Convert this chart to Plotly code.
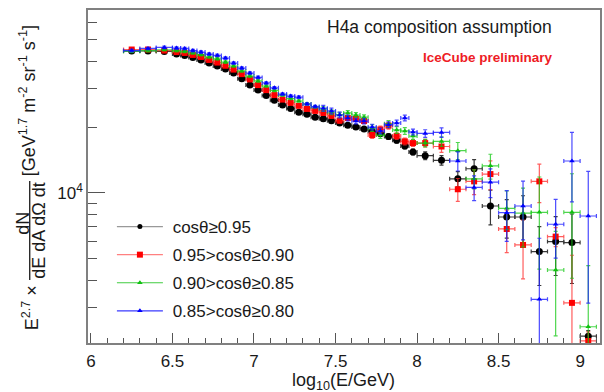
import plotly.graph_objects as go

# ---------------- data ----------------
log_e = [6.25, 6.35, 6.45, 6.525, 6.575, 6.625, 6.675, 6.725, 6.775, 6.825,
         6.875, 6.925, 6.975, 7.025, 7.075, 7.125, 7.175, 7.225, 7.275, 7.325,
         7.375, 7.425, 7.475, 7.525, 7.575, 7.625, 7.675, 7.725, 7.775, 7.825,
         7.875, 7.925, 7.975, 8.05, 8.15, 8.25, 8.35, 8.45, 8.55, 8.65,
         8.75, 8.85, 8.95, 9.05]
bin_half = [0.05, 0.05, 0.05] + [0.025] * 30 + [0.05] * 11

flux_095 = [44500, 44500, 44300, 43100, 42400, 41600, 40500, 39200, 38000, 36800,
            35300, 33200, 31100, 29500, 27900, 26500, 25200, 24300, 23400, 22900,
            22200, 21800, 21400, 20900, 20400, 20000, 19600, 19100, 18700, 18100,
            17400, 16400, 15400, 14800, 14100, 11600, 12900, 8720, 7770, 7770,
            5400, 6000, 5940, 2220]
flux_090 = [45200, 45200, 44700, 44000, 43600, 42700, 41800, 40500, 39400, 38100,
            36600, 34900, 33000, 31100, 29500, 28000, 26700, 25800, 25000, 24200,
            23700, 23200, 22500, 21400, 22000, 21800, 21300, 18400, 19500, 20300,
            18200, 17200, 16900, 16900, 16300, 10400, 11300, 12200, 6850, 5790,
            11300, 6320, 3150, 2110]
flux_085 = [44300, 44700, 45100, 44700, 44300, 43600, 42800, 41800, 41000, 39600,
            38000, 36100, 34200, 32500, 30800, 29400, 28000, 27000, 26300, 25500,
            24700, 24200, 23400, 22800, 23200, 22700, 22200, 19800, 18400, 20700,
            19400, 19200, 18200, 16900, 17200, 15600, 11600, 13300, 8510, 8100,
            8160, 4450, 8160, 2450]
flux_080 = [44700, 45700, 46200, 45900, 45700, 44700, 44000, 43100, 42500, 41300,
            39200, 37200, 35300, 33700, 31800, 30200, 28300, 27700, 27400, 25500,
            24800, 24400, 23700, 22700, 22000, 21300, 21300, 20000, 19200, 20500,
            20900, 22000, 19000, 18700, 18900, 14000, 10600, 11200, 8130, 8720,
            3270, 7200, 14000, 7850]

# relative statistical errors
rel_095 = [0.012] * 11 + [0.015] * 10 + [0.02] * 6 + [0.03] * 6 + \
          [0.04, 0.05, 0.08, 0.10, 0.18, 0.20, 0.25, 0.30, 0.30, 0.35, 0.06]
rel_090 = [0.015] * 21 + [0.025] * 6 + [0.035] * 6 + \
          [0.04, 0.06, 0.12, 0.13, 0.15, 0.22, 0.30, 0.20, 0.10, 0.65, 0.10]
rel_085 = [0.013] * 21 + [0.025] * 6 + [0.035] * 6 + \
          [0.04, 0.05, 0.09, 0.10, 0.13, 0.20, 0.30, 0.45, 0.50, 0.50, 0.90]
rel_080 = [0.013] * 21 + [0.03] * 12 + \
          [0.04, 0.05, 0.10, 0.13, 0.15, 0.26, 0.30, 0.90, 0.30, 0.35, 0.60]

labels = ["cos\u03b8\u22650.95", "0.95>cos\u03b8\u22650.90",
          "0.90>cos\u03b8\u22650.85", "0.85>cos\u03b8\u22650.80"]

x_tick_vals = [6, 6.5, 7, 7.5, 8, 8.5, 9]
x_tick_text = ["6", "6.5", "7", "7.5", "8", "8.5", "9"]
y_tick_vals = [10000]
y_tick_text = ["10<sup>4</sup>"]
y_minor_vals = [3000, 4000, 5000, 6000, 7000, 8000, 9000,
                20000, 30000, 40000, 50000, 60000]

# ---------------- layout geometry (pixels) ----------------
W, H = 604, 392
L, R, T, B = 88, 602, 10, 343
def px(x):
    return (x - L) / (R - L)
def py(y):
    return (B - y) / (B - T)

FONT = "Liberation Sans, Arial, sans-serif"

series = [
    (flux_095, rel_095, "#000000", "#3a3a3a", "circle", 7, "#999999", 5),
    (flux_090, rel_090, "#ff0000", "rgba(255,40,40,0.75)", "square", 6, "#ff8080", 6),
    (flux_085, rel_085, "#10c010", "rgba(20,200,20,0.75)", "triangle-up", 5, "#40cc40", 5),
    (flux_080, rel_080, "#0000ff", "rgba(30,30,255,0.8)", "triangle-up", 5, "#3a3aff", 5),
]

fig = go.Figure()
for i, (vals, rel, col, ecol, sym, size, lcol, lsize) in enumerate(series):
    err = [v * r for v, r in zip(vals, rel)]
    fig.add_trace(go.Scatter(
        x=log_e, y=vals, mode="markers",
        marker=dict(color=col, symbol=sym, size=size, line=dict(width=0)),
        error_y=dict(type="data", array=err, color=ecol, thickness=1.2, width=2),
        error_x=dict(type="data", array=bin_half, color=ecol, thickness=1.2, width=2),
        showlegend=False, cliponaxis=True))

for i, (vals, rel, col, ecol, sym, size, lcol, lsize) in enumerate(series):
    fig.add_trace(go.Scatter(
        x=[None], y=[None], mode="lines+markers", name="\u00a0" + labels[i],
        line=dict(color=lcol, width=1.2),
        marker=dict(color=col, symbol=sym, size=lsize),
        legendgroup="g%d" % i, showlegend=True))

annotations = [
    dict(text="H4a composition assumption", x=px(441), y=py(27),
         font=dict(family=FONT, size=17.5, color="#1a1a1a")),
    dict(text="<b>IceCube preliminary</b>", x=px(490), y=py(57.5),
         font=dict(family=FONT, size=13.5, color="#ee1c25")),
    dict(text="[GeV<sup>1.7</sup> m<sup>-2</sup> sr<sup>-1</sup> s<sup>-1</sup>]",
         x=px(28), y=py(101), textangle=-90,
         font=dict(family=FONT, size=18, color="#1a1a1a")),
    dict(text="dN", x=px(22.5), y=py(223), textangle=-90,
         font=dict(family=FONT, size=18, color="#1a1a1a")),
    dict(text="dE dA d\u03a9 dt", x=px(38.5), y=py(230), textangle=-90,
         font=dict(family=FONT, size=18, color="#1a1a1a")),
    dict(text="E<sup>2.7</sup> \u00d7", x=px(30), y=py(308), textangle=-90,
         font=dict(family=FONT, size=18, color="#1a1a1a")),
    dict(text="log<sub>10</sub>(E/GeV)", x=px(344), y=py(381),
         font=dict(family=FONT, size=18, color="#1a1a1a")),
]
for a in annotations:
    a.update(xref="paper", yref="paper", showarrow=False,
             xanchor="center", yanchor="middle")

fig.add_shape(type="line", xref="paper", yref="paper",
              x0=px(29.5), x1=px(29.5), y0=py(181), y1=py(280),
              line=dict(color="#1a1a1a", width=1.3))

fig.update_layout(
    width=W, height=H,
    margin=dict(l=L, r=W - R, t=T, b=H - B, pad=0),
    paper_bgcolor="white", plot_bgcolor="white",
    font=dict(family=FONT, size=17, color="#1a1a1a"),
    annotations=annotations,
    legend=dict(x=px(112), y=py(209), xanchor="left", yanchor="top",
                bgcolor="rgba(0,0,0,0)", borderwidth=0,
                font=dict(family=FONT, size=17, color="#1a1a1a"),
                tracegroupgap=3, itemwidth=46),
    xaxis=dict(range=[5.982, 9.122], showgrid=False, zeroline=False,
               showline=True, linecolor="#808080", linewidth=1.5, mirror=True,
               tickmode="array", tickvals=x_tick_vals, ticktext=x_tick_text,
               ticks="inside", ticklen=10, tickcolor="#555555", tickwidth=1,
               ticklabelstandoff=2,
               minor=dict(dtick=0.1, tick0=6, ticks="inside", ticklen=5,
                          tickcolor="#555555", tickwidth=1, showgrid=False),
               tickfont=dict(family=FONT, size=17, color="#1a1a1a")),
    yaxis=dict(type="log", range=[3.315, 4.8356], showgrid=False, zeroline=False,
               showline=True, linecolor="#808080", linewidth=1.5, mirror=True,
               tickmode="array", tickvals=y_tick_vals, ticktext=y_tick_text,
               ticks="inside", ticklen=17, tickcolor="#555555", tickwidth=1,
               minor=dict(tickmode="array", tickvals=y_minor_vals, ticks="inside",
                          ticklen=9, tickcolor="#555555", tickwidth=1, showgrid=False),
               tickfont=dict(family=FONT, size=17, color="#1a1a1a")),
)

fig.write_html("out.html")
